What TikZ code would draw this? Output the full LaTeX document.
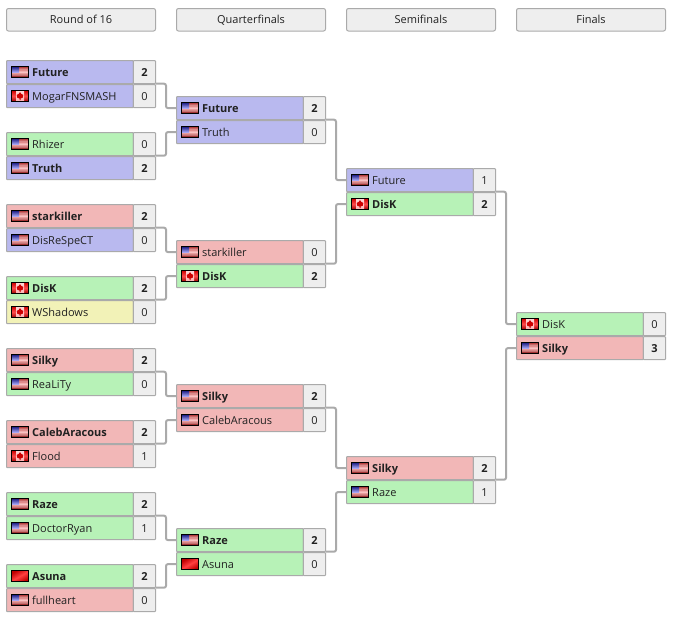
\documentclass[tikz,border=0pt]{standalone}
\usepackage{fontspec}
\setmainfont{Open Sans}
\definecolor{cb}{HTML}{B9B9EF}
\definecolor{cg}{HTML}{B7F2B7}
\definecolor{cp}{HTML}{F2B7B7}
\definecolor{cy}{HTML}{F2F2B7}
\definecolor{cc}{HTML}{EEEEEE}
\definecolor{ln}{HTML}{AAAAAA}
\definecolor{tx}{HTML}{212121}
\tikzset{
  hdr/.style={draw=ln,fill=cc,line width=1pt,rounded corners=2pt,minimum width=149pt,minimum height=22.5pt,inner sep=0pt,outer sep=0pt,anchor=north west,text=tx,font=\fontsize{11}{13}\selectfont},
  namecell/.style={draw=ln,line width=1pt,rounded corners=0.8pt,minimum width=126.8pt,minimum height=23.2pt,inner sep=0pt,outer sep=0pt,anchor=north west},
  scorecell/.style={draw=ln,fill=cc,line width=1pt,rounded corners=0.8pt,minimum width=22.2pt,minimum height=23.2pt,inner sep=0pt,outer sep=0pt,anchor=north west,text=tx,font=\fontsize{11}{13}\selectfont,text height=8pt,text depth=0pt},
  nametxt/.style={inner sep=0pt,anchor=base west,text=tx,font=\fontsize{11}{13}\selectfont},
  conn/.style={draw=ln,line width=2pt,rounded corners=2pt},
  flagbox/.style={draw=black,line width=0.8pt}
}
\newcommand{\flagUS}[2]{%
  \shade[top color=red!60!black!80,bottom color=red!50!black,middle color=red!25!white] (#1,#2) rectangle ++(17,11);
  \fill[white,opacity=.25] (#1,#2+2) rectangle ++(17,1.2) (#1,#2+5) rectangle ++(17,1.2) (#1,#2+8) rectangle ++(17,1.2);
  \shade[top color=blue!45!black!90,bottom color=blue!30!white] (#1,#2) rectangle ++(7.5,6);
  \draw[flagbox] (#1,#2) rectangle ++(17,11);}
\newcommand{\flagCA}[2]{%
  \shade[top color=red!80!black,bottom color=red!60!black,middle color=red!70!white] (#1,#2) rectangle ++(17,11);
  \shade[top color=white!85!red,bottom color=white!70!red] (#1+4.5,#2) rectangle ++(8,11);
  \fill[red!80!black] (#1+8.5,#2+1.5) -- (#1+9.6,#2+3.2) -- (#1+11.8,#2+4.5) -- (#1+11.2,#2+7.2) -- (#1+9,#2+8) -- (#1+9,#2+9.5) -- (#1+8,#2+9.5) -- (#1+8,#2+8) -- (#1+5.8,#2+7.2) -- (#1+5.2,#2+4.5) -- (#1+7.4,#2+3.2) -- cycle;
  \draw[flagbox] (#1,#2) rectangle ++(17,11);}
\newcommand{\flagRD}[2]{%
  \shade[left color=red!75!black,right color=red!75!black,middle color=red!75!white,shading angle=30] (#1,#2) rectangle ++(17,11);
  \draw[flagbox] (#1,#2) rectangle ++(17,11);}
% \prow{id}{x}{y}{colour}{flag}{font}{name}{score}
\newcommand{\prow}[8]{%
  \node[namecell,fill=#4] (#1) at (#2+0.5,#3+0.5) {};
  \node[scorecell] (#1s) at (#2+127.3,#3+0.5) {#6#8};
  \node[nametxt] (#1t) at (#2+26,#3+16) {#6#7};
  \csname flag#5\endcsname{#2+5.5}{#3+6.5}}
\newcommand{\pl}{\relax}
\newcommand{\wn}{\bfseries}
\begin{document}
\begin{tikzpicture}[x=1pt,y=-1pt]
\useasboundingbox (0,0) rectangle (677,621);
\node[hdr] (h1) at (6.5,8.5) {Round of 16};
\node[hdr] (h2) at (176.5,8.5) {Quarterfinals};
\node[hdr] (h3) at (346.5,8.5) {Semifinals};
\node[hdr] (h4) at (516.5,8.5) {Finals};
% Round of 16
\prow{a1}{6}{60}{cb}{US}{\wn}{Future}{2}
\prow{a2}{6}{84}{cb}{CA}{\pl}{MogarFNSMASH}{0}
\prow{a3}{6}{132}{cg}{US}{\pl}{Rhizer}{0}
\prow{a4}{6}{156}{cb}{US}{\wn}{Truth}{2}
\prow{a5}{6}{204}{cp}{US}{\wn}{starkiller}{2}
\prow{a6}{6}{228}{cb}{US}{\pl}{DisReSpeCT}{0}
\prow{a7}{6}{276}{cg}{CA}{\wn}{DisK}{2}
\prow{a8}{6}{300}{cy}{CA}{\pl}{WShadows}{0}
\prow{a9}{6}{348}{cp}{US}{\wn}{Silky}{2}
\prow{a10}{6}{372}{cg}{US}{\pl}{ReaLiTy}{0}
\prow{a11}{6}{420}{cp}{US}{\wn}{CalebAracous}{2}
\prow{a12}{6}{444}{cp}{CA}{\pl}{Flood}{1}
\prow{a13}{6}{492}{cg}{US}{\wn}{Raze}{2}
\prow{a14}{6}{516}{cg}{US}{\pl}{DoctorRyan}{1}
\prow{a15}{6}{564}{cg}{RD}{\wn}{Asuna}{2}
\prow{a16}{6}{588}{cp}{US}{\pl}{fullheart}{0}
% Quarterfinals
\prow{b1}{176}{96}{cb}{US}{\wn}{Future}{2}
\prow{b2}{176}{120}{cb}{US}{\pl}{Truth}{0}
\prow{b3}{176}{240}{cp}{US}{\pl}{starkiller}{0}
\prow{b4}{176}{264}{cg}{CA}{\wn}{DisK}{2}
\prow{b5}{176}{384}{cp}{US}{\wn}{Silky}{2}
\prow{b6}{176}{408}{cp}{US}{\pl}{CalebAracous}{0}
\prow{b7}{176}{528}{cg}{US}{\wn}{Raze}{2}
\prow{b8}{176}{552}{cg}{RD}{\pl}{Asuna}{0}
% Semifinals
\prow{c1}{346}{168}{cb}{US}{\pl}{Future}{1}
\prow{c2}{346}{192}{cg}{CA}{\wn}{DisK}{2}
\prow{c3}{346}{456}{cp}{US}{\wn}{Silky}{2}
\prow{c4}{346}{480}{cg}{US}{\pl}{Raze}{1}
% Finals
\prow{d1}{516}{312}{cg}{CA}{\pl}{DisK}{0}
\prow{d2}{516}{336}{cp}{US}{\wn}{Silky}{3}
% Connectors
\foreach \f/\t/\mx in {a1/b1/166,a3/b2/166,a5/b3/166,a7/b4/166,a9/b5/166,a11/b6/166,a13/b7/166,a15/b8/166,
  b1/c1/336,b3/c2/336,b5/c3/336,b7/c4/336,c1/d1/506,c3/d2/506}{
  \draw[conn] (\f s.south east) -- (\mx,0 |- \f s.south east) -- (\mx,0 |- \t.west) -- (\t.west);
}
\end{tikzpicture}
\end{document}
